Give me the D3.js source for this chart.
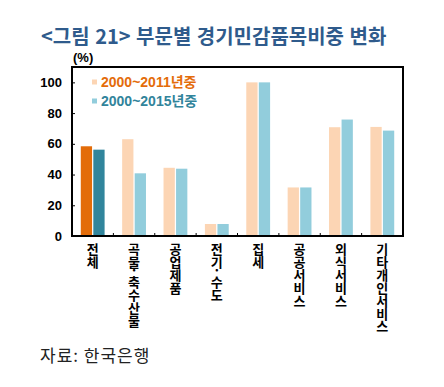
<!DOCTYPE html>
<html>
<head>
<meta charset="utf-8">
<script src="https://cdn.jsdelivr.net/npm/d3@7"></script>
<style>
  body { margin: 0; background: #fff; }
  svg text { font-family: "Liberation Sans", Arial, "Noto Sans CJK KR", sans-serif; }
</style>
</head>
<body>
<div id="chart"></div>
<script>
// data
const categories = ["전체", "곡물.축수산물", "공업제품", "전기.수도", "집세", "공공서비스", "외식서비스", "기타개인서비스"];
const seriesNames = ["2000~2011년중", "2000~2015년중"];
const values2011 = [58.4, 63.0, 44.4, 7.8, 100, 31.6, 70.8, 71.0];
const values2015 = [56.2, 40.8, 43.8, 7.8, 100, 31.6, 75.8, 68.6];
const yTicks = [0, 20, 40, 60, 80, 100];

const width = 444, height = 387;
const margin = { top: 67, right: 41, bottom: 151, left: 72 };
const innerWidth = width - margin.left - margin.right;
const innerHeight = height - margin.top - margin.bottom;

// colours: first category is highlighted darker
const lightColors = ["#fcd5b4", "#92cddc"];
const darkColors = ["#e36c09", "#31859c"];
const textColors = ["#e46c0a", "#31849b"];

const svg = d3.select("#chart")
  .append("svg")
    .attr("width", width)
    .attr("height", height);

// title
svg.append("text")
  .text("<그림 21> 부문별 경기민감품목비중 변화")
  .attr("x", 41)
  .attr("y", 44)
  .attr("fill", "#2f5b8c")
  .style("font-family", "'Noto Sans CJK KR', sans-serif")
  .style("font-weight", "bold")
  .style("font-size", "20px")
  .style("word-spacing", "1px");

const innerChart = svg.append("g")
  .attr("transform", `translate(${margin.left}, ${margin.top})`);

/* scales */
const xScale = d3.scaleBand()
  .domain(categories)
  .range([0, innerWidth])
  .padding(0);

const xSub = d3.scaleBand()
  .domain(seriesNames)
  .range([0, xScale.bandwidth()])
  .paddingInner(0.1)
  .paddingOuter(0.7);

const yScale = d3.scaleLinear()
  .domain([0, 110])
  .range([innerHeight, 0]);

/* bars */
const rows = categories.map((c, i) => ({ cat: c, i, vals: [values2011[i], values2015[i]] }));

const groups = innerChart.selectAll("g.cat")
  .data(rows)
  .join("g")
    .attr("class", "cat")
    .attr("transform", d => `translate(${xScale(d.cat)}, 0)`);

groups.selectAll("rect")
  .data(d => d.vals.map((v, s) => ({ v, s, first: d.i === 0 })))
  .join("rect")
    .attr("x", d => xSub(seriesNames[d.s]))
    .attr("y", d => yScale(d.v))
    .attr("width", xSub.bandwidth())
    .attr("height", d => innerHeight - yScale(d.v))
    .attr("fill", d => d.first ? darkColors[d.s] : lightColors[d.s]);

/* y axis: ticks point inward */
const leftAxis = d3.axisLeft(yScale)
  .tickValues(yTicks)
  .tickSize(-3)
  .tickPadding(10);

const yAxisG = innerChart.append("g").call(leftAxis);
yAxisG.select(".domain").remove();
yAxisG.selectAll("line").attr("stroke", "#000");
yAxisG.selectAll("text")
  .style("font-size", "13px")
  .style("font-weight", "bold")
  .attr("fill", "#000");

/* x axis ticks at category boundaries, pointing up */
const boundaries = categories.slice(1).map(c => xScale(c));
innerChart.selectAll("line.xtick")
  .data(boundaries)
  .join("line")
    .attr("class", "xtick")
    .attr("x1", d => d).attr("x2", d => d)
    .attr("y1", innerHeight).attr("y2", innerHeight - 3)
    .attr("stroke", "#000");

// frame
innerChart.append("rect")
  .attr("width", innerWidth)
  .attr("height", innerHeight)
  .attr("fill", "none")
  .attr("stroke", "#000")
  .attr("stroke-width", 2);

/* vertical category labels (stacked characters) */
const labelG = innerChart.append("g")
  .attr("transform", `translate(0, ${innerHeight})`);

categories.forEach(c => {
  const cx = xScale(c) + xScale.bandwidth() / 2;
  const t = labelG.append("text")
    .attr("text-anchor", "middle")
    .style("font-family", "'Noto Sans CJK KR', sans-serif")
    .style("font-size", "13px")
    .style("font-weight", "bold")
    .attr("fill", "#000");
  let y = 18;
  Array.from(c).forEach(ch => {
    if (ch === ".") {
      t.append("tspan").attr("x", cx).attr("y", y - 5).text("·");
      y += 7;
    } else {
      t.append("tspan").attr("x", cx).attr("y", y).text(ch);
      y += 12.9;
    }
  });
});

/* unit label */
svg.append("text")
  .text("(%)")
  .attr("x", 73)
  .attr("y", 62)
  .style("font-size", "13px")
  .style("font-weight", "bold");

/* legend */
const legend = innerChart.append("g")
  .attr("transform", "translate(20, 15)");

seriesNames.forEach((name, s) => {
  const row = legend.append("g").attr("transform", `translate(0, ${s * 19})`);
  row.append("rect")
    .attr("x", 0).attr("y", -2.5)
    .attr("width", 5).attr("height", 5)
    .attr("fill", lightColors[s]);
  row.append("text")
    .text(name)
    .attr("x", 9)
    .attr("y", 0)
    .attr("dy", "0.36em")
    .attr("fill", textColors[s])
    .style("font-size", "14px")
    .style("font-weight", "bold");
});

/* source */
svg.append("text")
  .text("자료: 한국은행")
  .attr("x", 40)
  .attr("y", 362)
  .attr("fill", "#222")
  .style("font-family", "'Noto Sans CJK KR', sans-serif")
  .style("font-size", "17px")
  .style("letter-spacing", "1px");
</script>
</body>
</html>
